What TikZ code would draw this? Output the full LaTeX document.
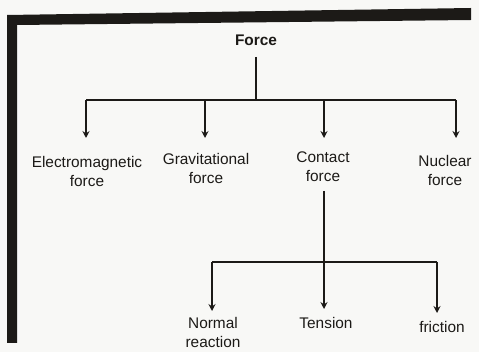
\documentclass[tikz,border=0pt]{standalone}
\usepackage{fontspec}
\setmainfont{Liberation Sans}
\usetikzlibrary{arrows.meta}
\definecolor{paper}{HTML}{F8F8F6}
\definecolor{ink}{HTML}{1C1A17}
\tikzset{
  lbl/.style={inner sep=0pt, anchor=base, align=center, text=ink,
    font=\fontsize{15.4}{19}\selectfont},
  conn/.style={draw=ink, line width=1.3pt},
  arr/.style={conn, -{Stealth[length=7pt,width=7pt,inset=2.5pt]}}
}
\begin{document}
\begin{tikzpicture}[x=1pt,y=-1pt]
\useasboundingbox (0,0) rectangle (479,352);
\fill[paper] (0,0) rectangle (479,352);
% frame
\fill[ink] (7,15) -- (471,8) -- (471,20) -- (17,25) -- (17,343) -- (7,343) -- cycle;
% labels (base anchor = baseline of the last line)
\node[lbl, font=\fontsize{15.4}{19}\selectfont\bfseries] (force) at (256,46) {Force};
\node[lbl] (em) at (87,187) {Electromagnetic\\force};
\node[lbl] (grav) at (206,184) {Gravitational\\force};
\node[lbl] (cont) at (323,182) {Contact\\force};
\node[lbl] (nuc) at (445,186) {Nuclear\\force};
\node[lbl] (norm) at (213,348) {Normal\\reaction};
\node[lbl] (ten) at (326,329) {Tension};
\node[lbl] (fric) at (442,333) {friction};
% junctions
\coordinate (j1) at (256,100);
\coordinate (j2) at (324,262);
% connectors
\draw[conn] (256,57) -- (j1);
\draw[conn] (86,100) -- (456,100);
\draw[arr] (86,100) -- (86,138);
\draw[arr] (205,100) -- (205,138);
\draw[arr] (324,100) -- (324,138);
\draw[arr] (456,100) -- (456,138);
\draw[arr] (324,191) -- (324,309);
\draw[conn] (212,262) -- (437,262);
\draw[arr] (212,262) -- (212,311);
\draw[arr] (437,262) -- (437,313);
\end{tikzpicture}
\end{document}
